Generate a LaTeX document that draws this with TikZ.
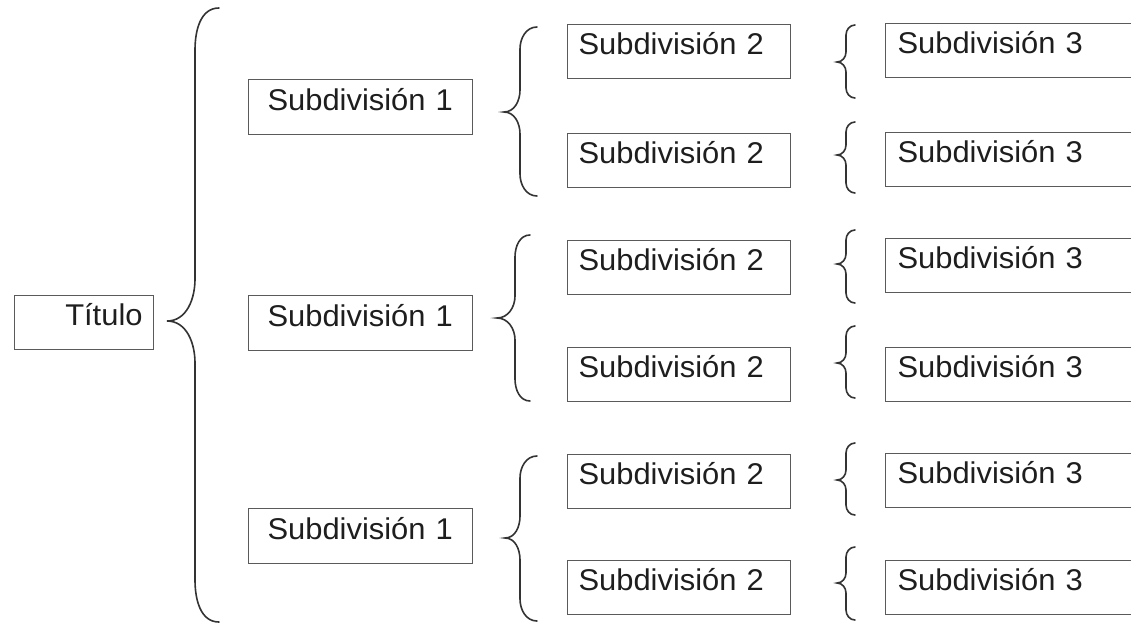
\documentclass[tikz,border=0pt]{standalone}
\usepackage{fontspec}
\setmainfont[FakeStretch=1.03]{Liberation Sans}
\newfontfamily\labelfont[FakeStretch=1.03]{Liberation Sans}
\definecolor{boxline}{HTML}{5A5A5A}
\definecolor{braceline}{HTML}{333333}
\definecolor{ink}{HTML}{1E1E1E}

% Curly brace opening to the right, tip pointing left:
% #1 end x, #2 body x, #3 tip x, #4 top y, #5 tip y, #6 bottom y, #7 curl size
\newcommand{\curlybrace}[7]{%
  \draw[bracestyle] (#1,#4) to[out=180,in=90] ({#2},{#4+#7})
    -- ({#2},{#5-#7}) to[out=-90,in=0] (#3,#5)
    to[out=0,in=90] ({#2},{#5+#7})
    -- ({#2},{#6-#7}) to[out=-90,in=180] (#1,#6);}

\begin{document}
\begin{tikzpicture}[x=1pt,y=-1pt,
  bracestyle/.style={draw=braceline,line width=1.6pt,line cap=round},
  box/.style={draw=boxline,line width=1.1pt,anchor=north west,inner ysep=0pt,
    text=ink,font=\labelfont\fontsize{30}{36}\selectfont,
    text height=30pt,text depth=24pt},
  titlebox/.style={box,inner xsep=11pt,text width=117pt,align=right},
  levelone/.style={box,inner xsep=19pt,text width=186pt,align=left,
    text height=31pt,text depth=24pt},
  leveltwo/.style={box,inner xsep=11pt,text width=201pt,align=left},
  levelthree/.style={box,inner xsep=12pt,text width=246pt,align=left}]
\useasboundingbox (0,0) rectangle (1131,624);
\clip (0,0) rectangle (1131,624);

% title
\node[titlebox] (title) at (14,295) {Título};

% first level
\node[levelone] (a) at (248,79)  {Subdivisión 1};
\node[levelone] (b) at (248,295) {Subdivisión 1};
\node[levelone] (c) at (248,508) {Subdivisión 1};

% second level
\node[leveltwo] (a1) at (567,24)  {Subdivisión 2};
\node[leveltwo] (a2) at (567,133) {Subdivisión 2};
\node[leveltwo] (b1) at (567,240) {Subdivisión 2};
\node[leveltwo] (b2) at (567,347) {Subdivisión 2};
\node[leveltwo] (c1) at (567,454) {Subdivisión 2};
\node[leveltwo] (c2) at (567,560) {Subdivisión 2};

% third level
\node[levelthree] (a1x) at (885,23)  {Subdivisión 3};
\node[levelthree] (a2x) at (885,132) {Subdivisión 3};
\node[levelthree] (b1x) at (885,238) {Subdivisión 3};
\node[levelthree] (b2x) at (885,347) {Subdivisión 3};
\node[levelthree] (c1x) at (885,453) {Subdivisión 3};
\node[levelthree] (c2x) at (885,560) {Subdivisión 3};

% braces
\curlybrace{219}{195}{167}{8}{321}{622}{42}

\curlybrace{537}{520}{504}{27}{112}{196}{22}
\curlybrace{530}{515}{497}{235}{318}{401}{22}
\curlybrace{537}{520}{505}{456}{538}{621}{22}

\curlybrace{855}{846}{837}{25}{62}{98}{10}
\curlybrace{855}{846}{837}{122}{155}{193}{10}
\curlybrace{855}{846}{837}{230}{264}{303}{10}
\curlybrace{855}{846}{837}{326}{363}{398}{10}
\curlybrace{855}{846}{837}{443}{480}{515}{10}
\curlybrace{855}{846}{837}{547}{583}{620}{10}
\end{tikzpicture}
\end{document}
